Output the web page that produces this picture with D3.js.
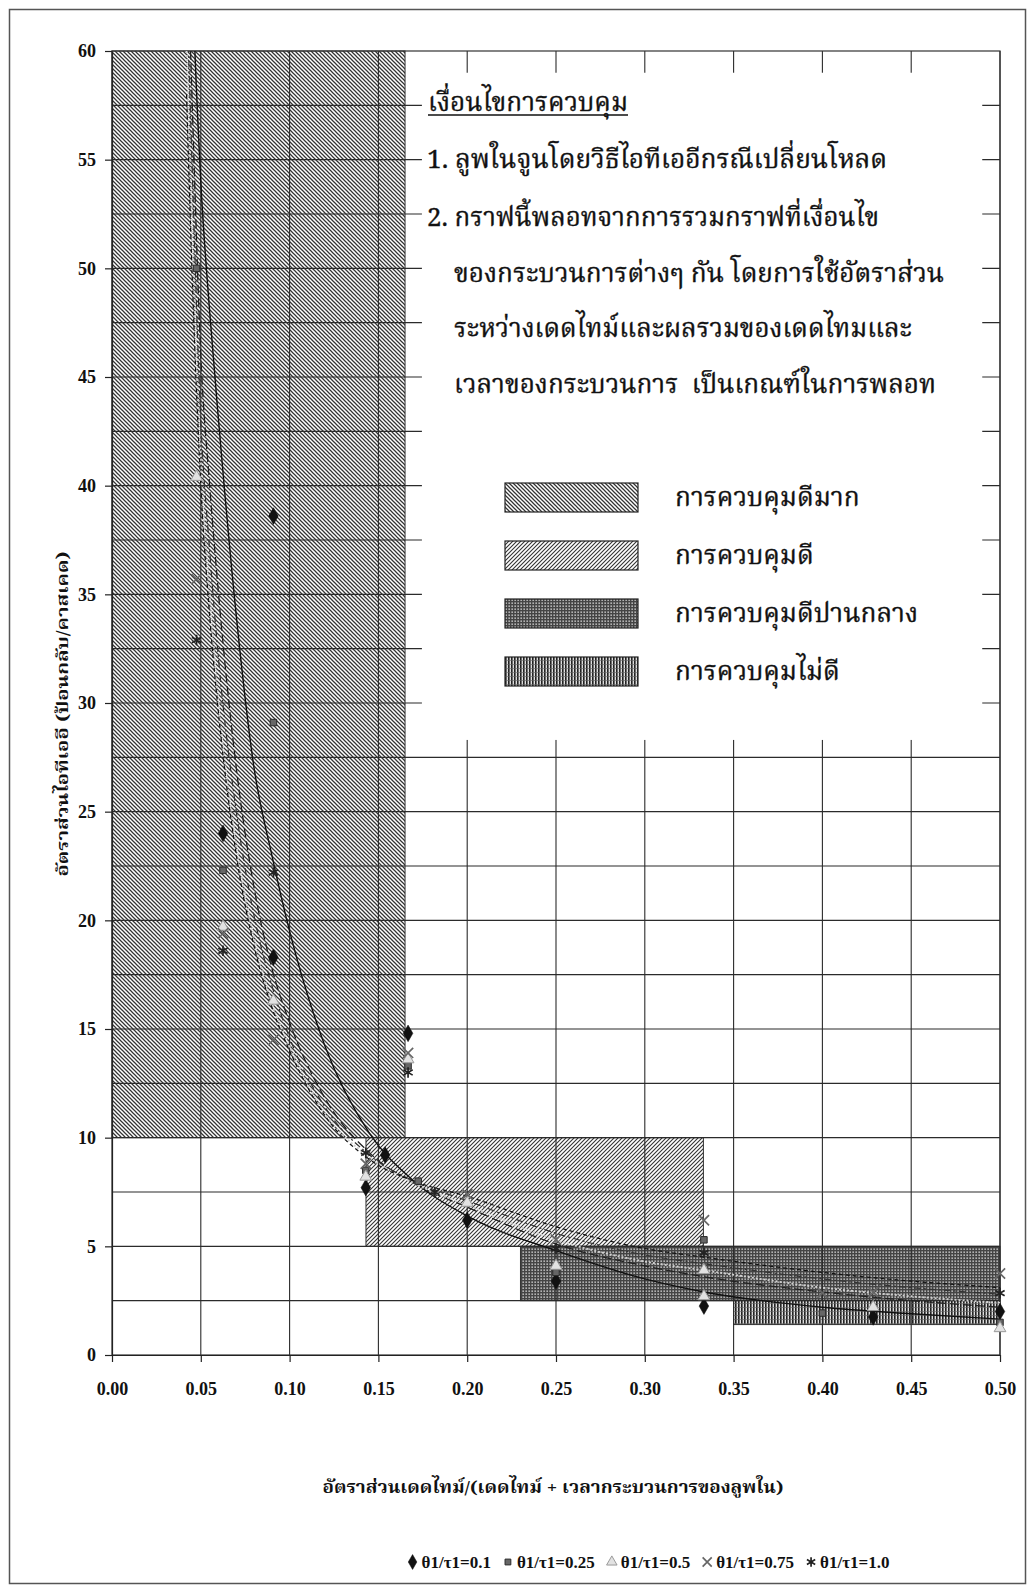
<!DOCTYPE html>
<html>
<head>
<meta charset="utf-8">
<script src="https://cdn.jsdelivr.net/npm/d3@7"></script>
<style>
  body { margin: 0; background: #fff; }
  text { font-family: "Liberation Serif", "Times New Roman", serif; fill: #111; }
  .th { font-family: "Noto Serif Thai", "Noto Sans Thai", "Loma", "Garuda", "Norasi", "Noto Sans", sans-serif; white-space: pre; }
</style>
</head>
<body>
<svg id="chart" width="1032" height="1589"></svg>
<script>
const svg = d3.select("#chart");

// ---- data ----
const xTickValues = [0.00, 0.05, 0.10, 0.15, 0.20, 0.25, 0.30, 0.35, 0.40, 0.45, 0.50];
const yTickValues = [0, 5, 10, 15, 20, 25, 30, 35, 40, 45, 50, 55, 60];
const yGridValues = [2.5, 5, 7.5, 10, 12.5, 15, 17.5, 20, 22.5, 25, 27.5, 30, 32.5, 35, 37.5, 40, 42.5, 45, 47.5, 50, 52.5, 55, 57.5];

const zoneNames = ["การควบคุมดีมาก", "การควบคุมดี", "การควบคุมดีปานกลาง", "การควบคุมไม่ดี"];
const zoneX0 = [0, 0.143, 0.23, 0.35];
const zoneX1 = [0.165, 0.333, 0.50, 0.50];
const zoneY0 = [10, 5, 2.5, 1.4];
const zoneY1 = [60, 10, 5, 2.5];

const seriesNames = ["θ1/τ1=0.1", "θ1/τ1=0.25", "θ1/τ1=0.5", "θ1/τ1=0.75", "θ1/τ1=1.0"];

const pts01 = [[0.0625, 24.0], [0.0909, 38.6], [0.0909, 18.3], [0.1429, 7.7], [0.1538, 9.2], [0.1667, 14.8],
  [0.2, 6.2], [0.25, 3.4], [0.3333, 2.25], [0.4286, 1.75], [0.5, 2.0]];
const pts025 = [[0.0476, 50.0], [0.0625, 22.3], [0.0909, 29.1], [0.1429, 8.5], [0.1667, 13.3], [0.1724, 8.0],
  [0.25, 3.8], [0.3333, 5.3], [0.4, 1.93], [0.5, 1.5]];
const pts05 = [[0.0476, 40.4], [0.0625, 19.7], [0.0909, 16.3], [0.1429, 8.2], [0.1667, 13.6], [0.2, 7.0],
  [0.25, 4.1], [0.3333, 3.9], [0.3333, 2.7], [0.4286, 2.2], [0.5, 1.23]];
const pts075 = [[0.0476, 35.7], [0.0625, 19.4], [0.0909, 14.5], [0.1429, 8.8], [0.1667, 13.9], [0.2, 7.4],
  [0.25, 5.3], [0.3333, 6.2], [0.4, 2.85], [0.4286, 2.9], [0.5, 3.75]];
const pts10 = [[0.0476, 32.9], [0.0625, 18.6], [0.0909, 22.2], [0.1429, 9.3], [0.1667, 13.0], [0.1818, 7.5],
  [0.25, 4.9], [0.3333, 4.7], [0.5, 2.85]];

// trend lines
const trendX = [0.042, 0.045, 0.05, 0.055, 0.06, 0.07, 0.08, 0.09, 0.1, 0.12, 0.145, 0.17, 0.2, 0.25, 0.3, 0.3333, 0.4, 0.45, 0.5];
const trend01 = [74, 64, 54, 48, 43, 34, 27, 23, 19.5, 14.2, 10.2, 8.0, 6.4, 4.8, 3.5, 2.9, 2.2, 1.9, 1.65];
const trend025 = [66, 58, 46, 40, 35, 27, 21.5, 17.8, 15.3, 11.8, 9.3, 7.9, 6.8, 5.1, 4.1, 3.6, 2.9, 2.5, 2.2];
const trend05 = [60, 52, 41, 35, 30, 23.5, 19.2, 16.2, 14.2, 11.1, 9.1, 7.9, 6.9, 5.3, 4.3, 3.9, 3.1, 2.7, 2.4];
const trend075 = [63, 55, 43, 37, 32, 25, 20.2, 17, 14.6, 11.4, 9.2, 8.0, 7.1, 5.6, 4.6, 4.2, 3.5, 3.1, 2.8];
const trend10 = [58, 50, 40, 34, 29.5, 23, 18.8, 16, 14, 11.0, 9.0, 8.0, 7.3, 5.9, 4.9, 4.5, 3.8, 3.4, 3.1];

const noteLines = [
  "เงื่อนไขการควบคุม",
  "1. ลูพในจูนโดยวิธีไอทีเออีกรณีเปลี่ยนโหลด",
  "2. กราฟนี้พลอทจากการรวมกราฟที่เงื่อนไข",
  "ของกระบวนการต่างๆ กัน โดยการใช้อัตราส่วน",
  "ระหว่างเดดไทม์และผลรวมของเดดไทมและ",
  "เวลาของกระบวนการ  เป็นเกณฑ์ในการพลอท"
];
const xTitle = "อัตราส่วนเดดไทม์/(เดดไทม์ + เวลากระบวนการของลูพใน)";
const yTitle = "อัตราส่วนไอทีเออี (ป้อนกลับ/คาสเคด)";

// ---- layout ----
const plot = { left: 112, right: 1000, top: 51, bottom: 1355 };
const x = d3.scaleLinear().domain([0, 0.5]).range([plot.left, plot.right]);
const y = d3.scaleLinear().domain([0, 60]).range([plot.bottom, plot.top]);

const defs = svg.append("defs");
defs.append("clipPath").attr("id", "plotClip")
  .append("rect")
    .attr("x", plot.left).attr("y", plot.top)
    .attr("width", plot.right - plot.left).attr("height", plot.bottom - plot.top);

// fill patterns for the four zones
const pVG = defs.append("pattern").attr("id", "pat0").attr("patternUnits", "userSpaceOnUse")
  .attr("width", 4).attr("height", 4);
pVG.append("rect").attr("width", 4).attr("height", 4).attr("fill", "#fff");
pVG.append("path").attr("d", "M-1,-1L5,5M-1,3L1,5M3,-1L5,1")
  .attr("stroke", "#333").attr("stroke-width", 1.25);

const pG = defs.append("pattern").attr("id", "pat1").attr("patternUnits", "userSpaceOnUse")
  .attr("width", 4).attr("height", 4);
pG.append("rect").attr("width", 4).attr("height", 4).attr("fill", "#fff");
pG.append("path").attr("d", "M-1,5L5,-1M-1,1L1,-1M3,5L5,3")
  .attr("stroke", "#333").attr("stroke-width", 1.1);

const pM = defs.append("pattern").attr("id", "pat2").attr("patternUnits", "userSpaceOnUse")
  .attr("width", 3).attr("height", 3);
pM.append("rect").attr("width", 3).attr("height", 3).attr("fill", "#444");
pM.append("rect").attr("x", 0.5).attr("y", 0.5).attr("width", 1.3).attr("height", 1.3).attr("fill", "#eee");

const pP = defs.append("pattern").attr("id", "pat3").attr("patternUnits", "userSpaceOnUse")
  .attr("width", 3).attr("height", 4);
pP.append("rect").attr("width", 3).attr("height", 4).attr("fill", "#ddd");
pP.append("rect").attr("width", 1.6).attr("height", 4).attr("fill", "#222");
pP.append("rect").attr("y", 3).attr("width", 3).attr("height", 0.6).attr("fill", "#666");

// outer frame
svg.append("rect")
  .attr("x", 9.5).attr("y", 9.5).attr("width", 1016).attr("height", 1574)
  .attr("fill", "#fff").attr("stroke", "#555").attr("stroke-width", 1.5);

// zones
svg.append("g").selectAll("rect")
  .data(zoneNames)
  .enter().append("rect")
    .attr("x", (d, i) => x(zoneX0[i]))
    .attr("y", (d, i) => y(zoneY1[i]))
    .attr("width", (d, i) => x(zoneX1[i]) - x(zoneX0[i]))
    .attr("height", (d, i) => y(zoneY0[i]) - y(zoneY1[i]))
    .attr("fill", (d, i) => `url(#pat${i})`)
    .attr("stroke", "#333").attr("stroke-width", 1);

// gridlines
const grid = svg.append("g").attr("stroke", "#2b2b2b").attr("stroke-width", 1.1);
grid.selectAll(".hg").data(yGridValues).enter().append("line")
  .attr("x1", plot.left).attr("x2", plot.right)
  .attr("y1", d => y(d)).attr("y2", d => y(d));
grid.selectAll(".vg").data(xTickValues.slice(1)).enter().append("line")
  .attr("y1", plot.top).attr("y2", plot.bottom)
  .attr("x1", d => x(d)).attr("x2", d => x(d));

// white note box (covers the grid)
const boxX = [0.1745, 0.49], boxY = [28.3, 59.0];
svg.append("rect")
  .attr("x", x(boxX[0])).attr("y", y(boxY[1]))
  .attr("width", x(boxX[1]) - x(boxX[0])).attr("height", y(boxY[0]) - y(boxY[1]))
  .attr("fill", "#fff");

const noteX = [428, 427, 427, 454, 454, 454];
const noteY = [111, 168, 226, 282, 337, 393];
const noteW = [200, 460, 452, 490, 458, 482];
const notes = svg.append("g").selectAll("text")
  .data(noteLines)
  .enter().append("text")
    .attr("class", "th")
    .attr("x", (d, i) => noteX[i])
    .attr("y", (d, i) => noteY[i])
    .attr("font-size", 26)
    .attr("stroke", "#111").attr("stroke-width", 0.35)
    .attr("textLength", (d, i) => noteW[i])
    .attr("lengthAdjust", "spacingAndGlyphs")
    .text(d => d);
svg.append("line")
  .attr("x1", noteX[0]).attr("x2", noteX[0] + noteW[0])
  .attr("y1", noteY[0] + 4).attr("y2", noteY[0] + 4)
  .attr("stroke", "#111").attr("stroke-width", 1.3);

// zone legend inside the box
const zl = svg.append("g").selectAll("g")
  .data(zoneNames)
  .enter().append("g")
    .attr("transform", (d, i) => `translate(505,${483 + i * 58})`);
zl.append("rect")
  .attr("width", 133).attr("height", 29)
  .attr("fill", (d, i) => `url(#pat${i})`)
  .attr("stroke", "#222").attr("stroke-width", 1.2);
const zlText = zl.append("text")
  .attr("class", "th")
  .attr("x", 170).attr("y", 23)
  .attr("font-size", 26)
  .attr("stroke", "#111").attr("stroke-width", 0.35)
  .text(d => d);

// squeeze Thai glyphs like the condensed original font
const noteNode = notes.nodes()[3];
noteNode.removeAttribute("textLength");
const squeeze = noteW[3] / noteNode.getComputedTextLength();
noteNode.setAttribute("textLength", noteW[3]);
zlText.each(function () {
  d3.select(this).attr("textLength", this.getComputedTextLength() * squeeze)
    .attr("lengthAdjust", "spacingAndGlyphs");
});

// plot border
svg.append("rect")
  .attr("x", plot.left).attr("y", plot.top)
  .attr("width", plot.right - plot.left).attr("height", plot.bottom - plot.top)
  .attr("fill", "none").attr("stroke", "#333").attr("stroke-width", 1.2);

// trend lines
const trendSets = [trend01, trend025, trend05, trend075, trend10];
const trendColor = ["#111", "#222", "#d0d0d0", "#333", "#111"];
const trendDash = [null, "9,4", "2,2", "7,3,2,3", "4,3"];
const trendWidth = [1.4, 1.3, 1.9, 1.2, 1.2];
const line = d3.line()
  .x(d => x(d[0])).y(d => y(d[1]))
  .curve(d3.curveMonotoneX);
svg.append("g").attr("clip-path", "url(#plotClip)")
  .selectAll("path")
  .data(trendSets)
  .enter().append("path")
    .attr("d", ys => line(trendX.map((v, j) => [v, ys[j]])))
    .attr("fill", "none")
    .attr("stroke", (d, i) => trendColor[i])
    .attr("stroke-width", (d, i) => trendWidth[i])
    .attr("stroke-dasharray", (d, i) => trendDash[i]);

// markers
const symTimes = d3.symbolTimes || d3.symbolCross;
const symStar = d3.symbolAsterisk || d3.symbolCross;
const markerStyle = [
  { type: d3.symbolDiamond, size: 80, fill: "#111", stroke: "#111", sw: 0.5 },
  { type: d3.symbolSquare, size: 42, fill: "#666", stroke: "#2a2a2a", sw: 1 },
  { type: d3.symbolTriangle, size: 60, fill: "#e2e2e2", stroke: "#9a9a9a", sw: 1 },
  { type: symTimes, size: 70, fill: "none", stroke: "#666", sw: 1.7 },
  { type: symStar, size: 80, fill: "none", stroke: "#222", sw: 1.7 }
];
const pointSets = [pts01, pts025, pts05, pts075, pts10];
const symbolPath = i => d3.symbol().type(markerStyle[i].type).size(markerStyle[i].size)();

pointSets.forEach((pts, i) => {
  svg.append("g")
    .selectAll("path")
    .data(pts)
    .enter().append("path")
      .attr("transform", d => `translate(${x(d[0])},${y(d[1])})`)
      .attr("d", symbolPath(i))
      .attr("fill", markerStyle[i].fill)
      .attr("stroke", markerStyle[i].stroke)
      .attr("stroke-width", markerStyle[i].sw);
});

// axes
const yAxis = svg.append("g")
  .attr("transform", `translate(${plot.left},0)`)
  .call(d3.axisLeft(y).tickValues(yTickValues).tickSize(7).tickSizeOuter(0).tickPadding(9));
const xAxis = svg.append("g")
  .attr("transform", `translate(0,${plot.bottom})`)
  .call(d3.axisBottom(x).tickValues(xTickValues).tickSize(7).tickSizeOuter(0).tickPadding(20)
    .tickFormat(d3.format(".2f")));
[xAxis, yAxis].forEach(a => {
  a.selectAll("path, line").attr("stroke", "#222").attr("stroke-width", 1.2);
  a.selectAll("text")
    .attr("font-family", "Liberation Serif, Times New Roman, serif")
    .attr("font-size", 18).attr("font-weight", "bold").attr("fill", "#222");
});

// axis titles
svg.append("text")
  .attr("class", "th")
  .attr("x", 553).attr("y", 1493)
  .attr("text-anchor", "middle")
  .attr("font-size", 17).attr("font-weight", "bold")
  .attr("textLength", 461).attr("lengthAdjust", "spacingAndGlyphs")
  .text(xTitle);
svg.append("text")
  .attr("class", "th")
  .attr("transform", "translate(68,714) rotate(-90)")
  .attr("text-anchor", "middle")
  .attr("font-size", 16).attr("font-weight", "bold")
  .attr("textLength", 325).attr("lengthAdjust", "spacingAndGlyphs")
  .text(yTitle);

// series legend at the bottom
const lg = svg.append("g");
let cursor = 0;
seriesNames.forEach((name, i) => {
  const item = lg.append("g").attr("transform", `translate(${cursor},0)`);
  item.append("path")
    .attr("d", d3.symbol().type(markerStyle[i].type).size(markerStyle[i].size * 0.8)())
    .attr("transform", "translate(5,-6)")
    .attr("fill", markerStyle[i].fill)
    .attr("stroke", markerStyle[i].stroke)
    .attr("stroke-width", markerStyle[i].sw);
  const t = item.append("text")
    .attr("x", 14).attr("y", 0)
    .attr("font-size", 17).attr("font-weight", "bold")
    .text(name);
  cursor += 14 + t.node().getComputedTextLength() + 12;
});
lg.attr("transform", `translate(${(410 + 887) / 2 - (cursor - 12) / 2},1568)`);
</script>
</body>
</html>
